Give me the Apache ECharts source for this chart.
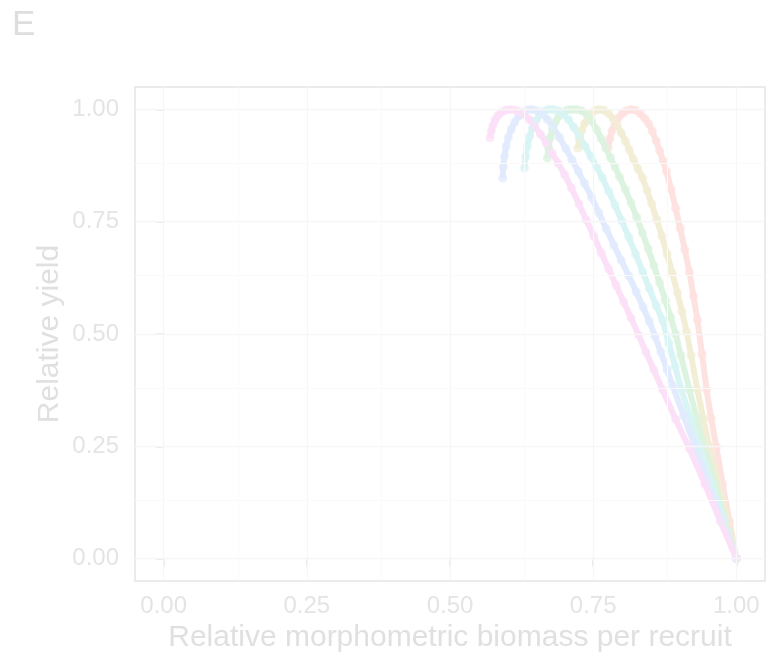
<!DOCTYPE html>
<html>
<head>
<meta charset="utf-8">
<script src="https://cdn.jsdelivr.net/npm/echarts@6/dist/echarts.min.js"></script>
<style>
  html, body { margin: 0; padding: 0; background: #fff; }
  #chart { width: 766px; height: 656px; }
</style>
</head>
<body>
<div id="chart"></div>
<script>
// yield curves, one per group as [biomass, yield]
const curveRed = [
  [0.776, 0.914], [0.779, 0.935], [0.783, 0.953], [0.788, 0.968], [0.794, 0.981],
  [0.801, 0.991], [0.808, 0.997], [0.816, 1.000], [0.824, 0.998], [0.832, 0.991],
  [0.840, 0.980], [0.847, 0.968], [0.853, 0.952], [0.860, 0.930], [0.866, 0.908],
  [0.872, 0.886], [0.878, 0.862], [0.886, 0.822], [0.894, 0.780], [0.902, 0.735],
  [0.910, 0.688], [0.918, 0.638], [0.925, 0.585], [0.932, 0.531], [0.940, 0.455],
  [0.948, 0.376], [0.956, 0.312], [0.965, 0.249], [0.976, 0.166], [0.988, 0.083],
  [1.000, 0.000]
];
const curveOlive = [
  [0.723, 0.914], [0.726, 0.935], [0.730, 0.953], [0.735, 0.969], [0.741, 0.982],
  [0.747, 0.992], [0.754, 0.998], [0.761, 1.000], [0.769, 0.998], [0.777, 0.991],
  [0.785, 0.979], [0.792, 0.965], [0.799, 0.948], [0.806, 0.930], [0.813, 0.910],
  [0.820, 0.890], [0.828, 0.868], [0.836, 0.848], [0.844, 0.820], [0.852, 0.790],
  [0.861, 0.755], [0.870, 0.718], [0.879, 0.678], [0.888, 0.636], [0.897, 0.592],
  [0.905, 0.550], [0.913, 0.505], [0.921, 0.452], [0.932, 0.376], [0.942, 0.312],
  [0.953, 0.249], [0.969, 0.166], [0.985, 0.082], [1.000, 0.000]
];
const curveGreen = [
  [0.670, 0.892], [0.672, 0.915], [0.675, 0.937], [0.679, 0.956], [0.684, 0.972],
  [0.690, 0.985], [0.697, 0.994], [0.705, 0.999], [0.713, 1.000], [0.721, 1.000],
  [0.730, 0.997], [0.739, 0.989], [0.747, 0.975], [0.756, 0.955], [0.764, 0.935],
  [0.772, 0.914], [0.780, 0.893], [0.788, 0.872], [0.796, 0.850], [0.806, 0.822],
  [0.816, 0.792], [0.826, 0.760], [0.836, 0.725], [0.846, 0.690], [0.856, 0.652],
  [0.866, 0.614], [0.876, 0.575], [0.885, 0.538], [0.894, 0.500], [0.903, 0.452],
  [0.918, 0.376], [0.931, 0.312], [0.944, 0.249], [0.963, 0.166], [0.981, 0.083],
  [1.000, 0.000]
];
const curveCyan = [
  [0.630, 0.870], [0.632, 0.895], [0.635, 0.918], [0.639, 0.940], [0.644, 0.959],
  [0.650, 0.975], [0.657, 0.988], [0.664, 0.996], [0.672, 1.000], [0.680, 1.000],
  [0.689, 0.997], [0.698, 0.989], [0.707, 0.977], [0.716, 0.961], [0.726, 0.940],
  [0.736, 0.918], [0.746, 0.895], [0.756, 0.872], [0.766, 0.848], [0.777, 0.818],
  [0.788, 0.787], [0.800, 0.752], [0.812, 0.716], [0.824, 0.678], [0.836, 0.640],
  [0.848, 0.601], [0.860, 0.563], [0.871, 0.531], [0.882, 0.480], [0.893, 0.428],
  [0.904, 0.376], [0.920, 0.312], [0.936, 0.249], [0.957, 0.166], [0.978, 0.083],
  [1.000, 0.000]
];
const curveBlue = [
  [0.592, 0.847], [0.593, 0.872], [0.595, 0.896], [0.598, 0.918], [0.602, 0.938],
  [0.607, 0.956], [0.613, 0.972], [0.620, 0.985], [0.627, 0.994], [0.635, 0.999],
  [0.643, 1.000], [0.652, 0.997], [0.661, 0.990], [0.670, 0.978], [0.680, 0.961],
  [0.691, 0.938], [0.702, 0.913], [0.713, 0.888], [0.724, 0.862], [0.735, 0.835],
  [0.747, 0.805], [0.760, 0.770], [0.773, 0.734], [0.786, 0.698], [0.799, 0.664],
  [0.812, 0.630], [0.825, 0.594], [0.837, 0.560], [0.848, 0.528], [0.858, 0.495],
  [0.868, 0.460], [0.879, 0.420], [0.889, 0.384], [0.908, 0.318], [0.927, 0.252],
  [0.950, 0.170], [0.975, 0.085], [1.000, 0.000]
];
const curveMagenta = [
  [0.570, 0.937], [0.572, 0.952], [0.575, 0.965], [0.579, 0.977], [0.584, 0.987],
  [0.590, 0.994], [0.597, 0.998], [0.605, 1.000], [0.613, 0.999], [0.621, 0.995],
  [0.630, 0.988], [0.639, 0.977], [0.648, 0.963], [0.658, 0.945], [0.668, 0.925],
  [0.678, 0.903], [0.689, 0.880], [0.700, 0.855], [0.712, 0.825], [0.725, 0.790],
  [0.738, 0.754], [0.751, 0.718], [0.764, 0.681], [0.777, 0.645], [0.790, 0.608],
  [0.803, 0.572], [0.816, 0.536], [0.829, 0.498], [0.842, 0.460], [0.856, 0.420],
  [0.871, 0.376], [0.894, 0.310], [0.918, 0.245], [0.945, 0.166], [0.972, 0.083],
  [1.000, 0.000]
];

const tickValues = [0, 0.25, 0.5, 0.75, 1];
const minorBreaks = [0.125, 0.375, 0.625, 0.875];

const chart = echarts.init(document.getElementById('chart'), null, { renderer: 'canvas' });

const font = 'Liberation Sans, Arial, Helvetica, sans-serif';
// pale tints, as in the faded figure
const tints = ['#FDE2E0', '#F2EED5', '#DCF3E0', '#D8F4F4', '#E2EBFE', '#FBE0F7'];
const curves = [curveRed, curveOlive, curveGreen, curveCyan, curveBlue, curveMagenta];

const curveSeries = curves.map((data, i) => ({
  type: 'line',
  data: data,
  symbol: 'circle',
  symbolSize: 9,
  showSymbol: true,
  lineStyle: { color: tints[i], width: 6 },
  itemStyle: { color: tints[i], opacity: 0.75 },
  emphasis: { disabled: true },
  silent: true,
  z: 3
}));

// panel grid lines, placed through the axes
const gridLineSeries = {
  type: 'line',
  data: [],
  silent: true,
  z: 1,
  markLine: {
    silent: true,
    symbol: 'none',
    animation: false,
    label: { show: false },
    data: [
      ...tickValues.map(v => ({ xAxis: v, lineStyle: { color: '#F6F6F6', width: 1.3, type: 'solid' } })),
      ...tickValues.map(v => ({ yAxis: v, lineStyle: { color: '#F6F6F6', width: 1.3, type: 'solid' } })),
      ...minorBreaks.map(v => ({ xAxis: v, lineStyle: { color: '#FAFAFA', width: 1, type: 'solid' } })),
      ...minorBreaks.map(v => ({ yAxis: v, lineStyle: { color: '#FAFAFA', width: 1, type: 'solid' } }))
    ]
  }
};

const axisCommon = {
  type: 'value',
  min: -0.05,
  max: 1.05,
  nameLocation: 'middle',
  nameMoveOverlap: false,
  nameTextStyle: { color: '#E0E0E0', fontSize: 30, fontFamily: font },
  axisLine: { show: false },
  axisTick: { show: true, length: 8, customValues: tickValues, lineStyle: { color: '#E4E4E4', width: 1.5 } },
  axisLabel: {
    customValues: tickValues,
    color: '#E4E4E4',
    fontSize: 24,
    fontFamily: font,
    formatter: v => v.toFixed(2)
  },
  splitLine: { show: false }
};

chart.setOption({
  animation: false,
  backgroundColor: '#ffffff',
  title: {
    text: 'E',
    left: 7,
    top: 3,
    textStyle: { color: '#DEDEDE', fontSize: 35, fontWeight: 'normal', fontFamily: font }
  },
  grid: {
    left: 135, top: 87, width: 630, height: 494,
    outerBoundsMode: 'none',
    containLabel: false,
    show: true, borderColor: '#E5E5E5', borderWidth: 1.5, backgroundColor: '#ffffff'
  },
  xAxis: Object.assign({}, axisCommon, {
    name: 'Relative morphometric biomass per recruit',
    nameGap: 42,
    axisLabel: Object.assign({}, axisCommon.axisLabel, { margin: 13 })
  }),
  yAxis: Object.assign({}, axisCommon, {
    name: 'Relative yield',
    nameGap: 70,
    axisLabel: Object.assign({}, axisCommon.axisLabel, { margin: 16 })
  }),
  series: [gridLineSeries, ...curveSeries]
});
</script>
</body>
</html>
